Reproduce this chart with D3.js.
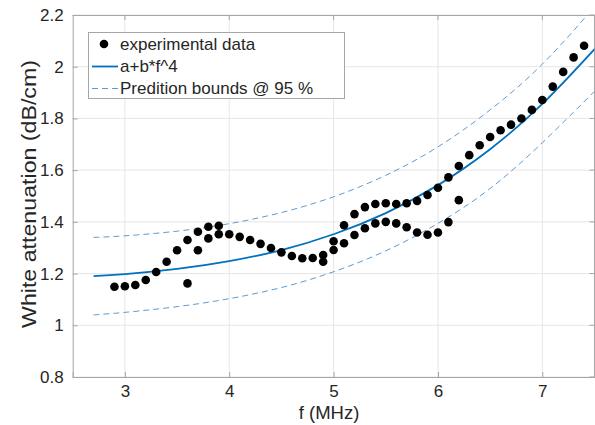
<!DOCTYPE html>
<html><head><meta charset="utf-8">
<script src="https://cdn.jsdelivr.net/npm/d3@7"></script>
<style>body{margin:0;background:#fff}svg{display:block}text{font-family:"Liberation Sans",Arial,sans-serif;fill:#262626}</style>
</head><body><svg id="c" width="595" height="425"></svg>
<script>
// experimental data (frequency MHz, attenuation dB/cm)
const dataFreq = [2.9,3.0,3.1,3.2,3.3,3.4,3.5,3.6,3.6,3.7,3.7,3.8,3.8,3.9,3.9,4.0,4.1,4.2,4.3,4.4,4.5,4.6,4.7,4.8,4.9,4.9,5.0,5.0,5.1,5.1,5.2,5.2,5.3,5.3,5.4,5.4,5.5,5.5,5.6,5.6,5.7,5.7,5.8,5.8,5.9,5.9,6.0,6.0,6.1,6.1,6.2,6.2,6.3,6.4,6.5,6.6,6.7,6.8,6.9,7.0,7.1,7.2,7.3,7.4];
const dataAtten = [1.149,1.151,1.156,1.175,1.206,1.246,1.290,1.330,1.162,1.362,1.290,1.381,1.336,1.385,1.352,1.352,1.342,1.330,1.315,1.299,1.282,1.268,1.259,1.260,1.272,1.246,1.325,1.291,1.387,1.317,1.430,1.349,1.457,1.375,1.469,1.394,1.472,1.400,1.469,1.394,1.472,1.379,1.481,1.359,1.504,1.350,1.532,1.359,1.572,1.399,1.616,1.484,1.658,1.696,1.728,1.754,1.776,1.800,1.833,1.871,1.923,1.980,2.036,2.081];
// fitted curve a+b*f^4 and prediction bounds, read at these frequencies
const fitFreq = [2.7,3.0,3.5,4.0,4.5,5.0,5.5,6.0,6.5,7.0,7.5];
const fitValue = [1.190,1.198,1.218,1.248,1.291,1.352,1.434,1.542,1.681,1.856,2.068];
const upperBound = [1.340,1.346,1.364,1.393,1.436,1.497,1.580,1.690,1.833,2.010,2.232];
const lowerBound = [1.040,1.050,1.072,1.103,1.146,1.207,1.288,1.394,1.529,1.706,1.905];
const xTicks = [3,4,5,6,7];
const yTicks = [0.8,1,1.2,1.4,1.6,1.8,2,2.2];
const legendLabels = ["experimental data","a+b*f^4","Predition bounds @ 95 %"];

const svg = d3.select("#c");
const L=72.7, R=594.5, T=15, B=377;
const x = d3.scaleLinear().domain([2.5,7.5]).range([L,R]);
const y = d3.scaleLinear().domain([0.8,2.2]).range([B,T]);

svg.append("defs").append("clipPath").attr("id","clip")
  .append("rect").attr("x",L).attr("y",T).attr("width",R-L).attr("height",B-T);

// grid
const g = svg.append("g");
g.selectAll(".gx").data(xTicks).join("line")
  .attr("x1",d=>x(d)).attr("x2",d=>x(d)).attr("y1",T).attr("y2",B)
  .attr("stroke","#e6e6e6").attr("stroke-width",1);
g.selectAll(".gy").data(yTicks).join("line")
  .attr("y1",d=>y(d)).attr("y2",d=>y(d)).attr("x1",L).attr("x2",R)
  .attr("stroke","#e6e6e6").attr("stroke-width",1);

// axes
const xAxis = d3.axisBottom(x).tickValues(xTicks).tickSize(-5).tickPadding(8).tickFormat(d3.format("d"));
const yAxis = d3.axisLeft(y).tickValues(yTicks).tickSize(-5).tickPadding(9).tickFormat(d=>String(d));
const ax = svg.append("g").attr("transform",`translate(0,${B})`).call(xAxis);
const ay = svg.append("g").attr("transform",`translate(${L},0)`).call(yAxis);
[ax,ay].forEach(a=>{
  a.select(".domain").attr("stroke","#a6a6a6");
  a.selectAll(".tick line").attr("stroke","#a6a6a6");
  a.selectAll(".tick text").attr("font-size",17).attr("fill","#262626").style("font-family","'Liberation Sans',Arial,sans-serif");
});
// top and right border
svg.append("line").attr("x1",L).attr("x2",R).attr("y1",T+0.5).attr("y2",T+0.5).attr("stroke","#a6a6a6");
svg.append("line").attr("x1",R).attr("x2",R).attr("y1",T).attr("y2",B).attr("stroke","#a6a6a6");
svg.selectAll(".rt").data(yTicks).join("line").attr("x1",R).attr("x2",R-5).attr("y1",d=>y(d)).attr("y2",d=>y(d)).attr("stroke","#a6a6a6");
svg.selectAll(".tt").data(xTicks).join("line").attr("x1",d=>x(d)).attr("x2",d=>x(d)).attr("y1",T).attr("y2",T+5).attr("stroke","#a6a6a6");

// curves
const plot = svg.append("g").attr("clip-path","url(#clip)");
const line = vals => d3.line().x((d,i)=>x(fitFreq[i])).y(d=>y(d)).curve(d3.curveNatural)(vals);
plot.append("path").attr("d",line(upperBound)).attr("fill","none").attr("stroke","#5b9bd5").attr("stroke-width",1).attr("stroke-dasharray","6,4");
plot.append("path").attr("d",line(lowerBound)).attr("fill","none").attr("stroke","#5b9bd5").attr("stroke-width",1).attr("stroke-dasharray","6,4");
plot.append("path").attr("d",line(fitValue)).attr("fill","none").attr("stroke","#0072BD").attr("stroke-width",1.8);

// points
plot.selectAll("circle").data(dataFreq).join("circle")
  .attr("cx",d=>x(d)).attr("cy",(d,i)=>y(dataAtten[i])).attr("r",4.3).attr("fill","#000");

// labels
svg.append("text").attr("x",329).attr("y",419).attr("text-anchor","middle").attr("font-size",18.5).text("f (MHz)");
svg.append("text").attr("transform","translate(36,194) rotate(-90)").attr("text-anchor","middle").attr("font-size",19.5)
  .attr("textLength",268).attr("lengthAdjust","spacingAndGlyphs").text("White attenuation (dB/cm)");

// legend
const lg = svg.append("g");
lg.append("rect").attr("x",88.5).attr("y",32.5).attr("width",256).attr("height",66).attr("fill","#fff").attr("stroke","#a6a6a6");
const rows=[44,66.5,88.5];
lg.append("circle").attr("cx",104).attr("cy",rows[0]).attr("r",4.3).attr("fill","#000");
lg.append("line").attr("x1",92).attr("x2",118).attr("y1",rows[1]).attr("y2",rows[1]).attr("stroke","#0072BD").attr("stroke-width",1.8);
lg.append("line").attr("x1",92).attr("x2",118).attr("y1",rows[2]).attr("y2",rows[2]).attr("stroke","#5b9bd5").attr("stroke-width",1).attr("stroke-dasharray","6,4");
lg.selectAll(".lt").data(legendLabels).join("text").attr("x",120).attr("y",(d,i)=>rows[i]).attr("dy","0.35em").attr("font-size",17).text(d=>d);
</script></body></html>
